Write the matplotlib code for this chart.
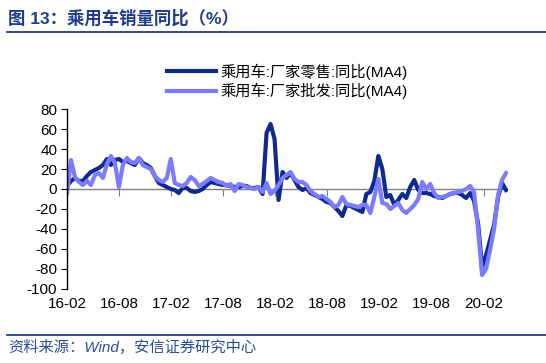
import numpy as np
import pandas as pd
import matplotlib
matplotlib.use('Agg')
import matplotlib.pyplot as plt
from matplotlib.lines import Line2D

plt.rcParams['font.family'] = ['Liberation Sans', 'Noto Sans CJK SC']
plt.rcParams['axes.unicode_minus'] = False

# two-week sampling
dates = pd.date_range('2016-02-01', periods=111, freq='14D')
retail = [3, 8, 11, 8, 8, 13, 17, 19, 21, 24,
          30, 24, 29, 30, 27, 28, 26, 24, 31, 26,
          24, 21, 13, 6, 4, 2, 0, -1, -4, 1,
          1, -2, -3, -2, 0, 4, 7, 6, 5, 4,
          4, 3, 2, 2, 3, 3, 1, 1, 2, -5,
          56, 65, 50, -11, 17, 11, 16, 9, 2, -1,
          1, -4, -6, -8, -10, -13, -14, -18, -22, -27,
          -16, -17, -19, -21, -23, -5, -3, 8, 33, 20,
          -8, -6, -16, -11, -5, -9, 2, 9, -1, -4,
          -4, -5, -7, -8, -9, -7, -5, -4, -4, -6,
          -9, -4, -12, -35, -78, -66, -51, -36, -8, 6,
          -1]
wholesale = [-4, 29, 12, 7, 4, 8, 4, 14, 16, 11,
             25, 33, 26, 2, 24, 31, 27, 26, 31, 24,
             22, 20, 13, 9, 7, 11, 30, 6, 4, 3,
             6, 12, 9, 3, 5, 8, 11, 9, 7, 6,
             3, 5, -2, 5, 4, 2, 1, 0, 2, -3,
             6, -5, -2, 4, 11, 14, 17, 10, 7, 7,
             4, -2, -5, -8, -7, -10, -13, -18, -16, -8,
             -15, -16, -17, -18, -16, -16, -24, -8, 10, -14,
             -15, -20, -17, -14, -21, -24, -20, -16, -10, 7,
             0, 5, -4, -9, -8, -7, -5, -4, -3, -2,
             0, 3, -3, -41, -86, -80, -61, -40, -6, 9,
             16]
names = ['乘用车:厂家零售:同比(MA4)', '乘用车:厂家批发:同比(MA4)']
tick_dates = pd.date_range('2016-02-01', '2020-02-01', freq='6MS')
tick_labels = [d.strftime('%y-%m') for d in tick_dates]

fig = plt.figure(figsize=(5.46, 3.63), dpi=100)
ax = fig.add_axes([0.1227, 0.2039, 0.8083, 0.4958])

ax.plot(dates, retail, color='#0F2A8E', lw=3, label=names[0], solid_joinstyle='round')
ax.plot(dates, wholesale, color='#7B7BFF', lw=3, label=names[1], solid_joinstyle='round')
ax.axhline(0, color='#808080', lw=1, zorder=1)

ax.set_ylim(-100, 80)
ax.set_yticks(np.arange(-100, 81, 20))
ax.set_xlim(pd.Timestamp('2016-02-01'), pd.Timestamp('2020-04-28'))
ax.set_xticks(tick_dates)
ax.set_xticklabels(tick_labels)
ax.tick_params(axis='x', length=0, labelsize=11, pad=6)
ax.tick_params(axis='y', length=4, direction='out', labelsize=11, pad=3)
for s in ['top', 'right', 'bottom']:
    ax.spines[s].set_visible(False)
ax.spines['left'].set_linewidth(1)

# tick marks sitting on the zero line
sec = ax.secondary_xaxis(100 / 180)
sec.set_xticks(tick_dates)
sec.tick_params(axis='x', direction='in', length=5, color='#808080', labelbottom=False, labeltop=False)
sec.spines['bottom'].set_visible(False)
sec.spines['top'].set_visible(False)

ax.legend(loc='lower center', bbox_to_anchor=(0.5, 0.98), ncol=1, frameon=False,
          fontsize=11, handlelength=3.2, handletextpad=0.3, labelspacing=0.2)

# title and footer
fig.text(0.015, 0.952, '图 13：乘用车销量同比（%）', fontsize=12.5, fontweight='bold',
         color='#1F3C8C', va='center', ha='left')
fig.add_artist(Line2D([0.013, 1.0], [0.912, 0.912], color='#1F3C8C', lw=1.3))
fig.add_artist(Line2D([0.013, 1.0], [0.077, 0.077], color='#1F3C8C', lw=1.3))
fig.text(0.015, 0.043, '资料来源：Wind，安信证券研究中心', fontsize=11, style='italic',
         color='#2B4C9B', va='center', ha='left')

fig.savefig('out.png', dpi=100)
